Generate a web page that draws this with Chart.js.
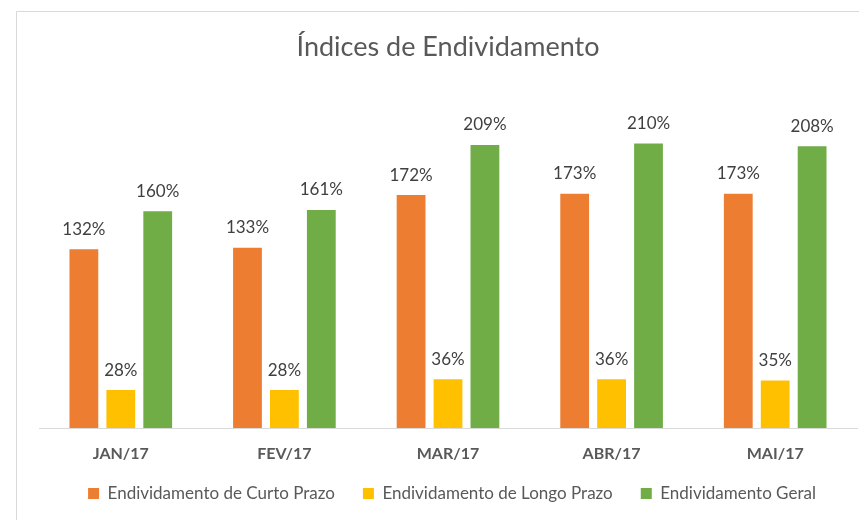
<!DOCTYPE html>
<html>
<head>
<meta charset="utf-8">
<script src="https://cdn.jsdelivr.net/npm/chart.js@4/dist/chart.umd.min.js"></script>
<style>
html,body{margin:0;padding:0;overflow:hidden;background:#fff;}
#wrap{width:900px;height:520px;}
</style>
</head>
<body>
<div id="wrap"><canvas id="c" width="900" height="520"></canvas></div>
<script>
const categories = ['JAN/17', 'FEV/17', 'MAR/17', 'ABR/17', 'MAI/17'];
const curtoPrazo = [1.32, 1.33, 1.72, 1.73, 1.73];
const longoPrazo = [0.28, 0.28, 0.36, 0.36, 0.35];
const geral = [1.60, 1.61, 2.09, 2.10, 2.08];
const seriesNames = ['Endividamento de Curto Prazo', 'Endividamento de Longo Prazo', 'Endividamento Geral'];
const titleText = 'Índices de Endividamento';

const FONT = 'Lato';

const frame = {
  id: 'frame',
  beforeDraw(chart) {
    const ctx = chart.ctx;
    ctx.save();
    ctx.fillStyle = '#fff';
    ctx.fillRect(0, 0, chart.width, chart.height);
    ctx.strokeStyle = '#d9d9d9';
    ctx.lineWidth = 1;
    ctx.beginPath();
    ctx.moveTo(16.5, 600);
    ctx.lineTo(16.5, 11.5);
    ctx.lineTo(1000, 11.5);
    ctx.stroke();
    ctx.restore();
  },
  afterLayout(chart) {
    // place the legend row as in the Excel original
    if (chart.legend) {
      chart.legend.top -= 7;
      chart.legend.bottom -= 7;
      chart.legend.left += 4;
      chart.legend.right += 4;
    }
  }
};

const labels = {
  id: 'barLabels',
  afterDatasetsDraw(chart) {
    const ctx = chart.ctx;
    ctx.save();
    ctx.font = '17px ' + FONT;
    ctx.fillStyle = '#404040';
    ctx.textAlign = 'center';
    ctx.textBaseline = 'middle';
    chart.data.datasets.forEach((ds, i) => {
      chart.getDatasetMeta(i).data.forEach((bar, j) => {
        const v = Math.round(ds.data[j] * 100) + '%';
        ctx.fillText(v, bar.x, bar.y - 20);
      });
    });
    ctx.restore();
  }
};

new Chart(document.getElementById('c'), {
  type: 'bar',
  data: {
    labels: categories,
    datasets: [
      { label: seriesNames[0], data: curtoPrazo, backgroundColor: '#ED7D31' },
      { label: seriesNames[1], data: longoPrazo, backgroundColor: '#FFC000' },
      { label: seriesNames[2], data: geral, backgroundColor: '#70AD47' }
    ]
  },
  options: {
    responsive: false,
    animation: false,
    devicePixelRatio: 1,
    layout: { padding: { left: 39, right: 43, top: 0, bottom: 1 } },
    datasets: { bar: { categoryPercentage: 0.677, barPercentage: 0.78 } },
    scales: {
      x: {
        grid: { display: false, drawTicks: false },
        border: { display: true, color: '#d9d9d9', width: 1 },
        ticks: { color: '#595959', font: { family: FONT, size: 16, weight: 'bold' }, padding: 16.4 },
        afterFit(scale) { scale.height = 36; }
      },
      y: {
        display: false,
        min: 0,
        max: 2.5
      }
    },
    plugins: {
      title: {
        display: true,
        text: titleText,
        color: '#595959',
        font: { family: FONT, size: 27, weight: 'normal' },
        padding: { top: 31, bottom: 26 }
      },
      legend: {
        position: 'bottom',
        labels: {
          color: '#595959',
          font: { family: FONT, size: 17 },
          boxWidth: 11,
          boxHeight: 11,
          padding: 28
        }
      },
      tooltip: { enabled: false }
    }
  },
  plugins: [frame, labels]
});
</script>
</body>
</html>
